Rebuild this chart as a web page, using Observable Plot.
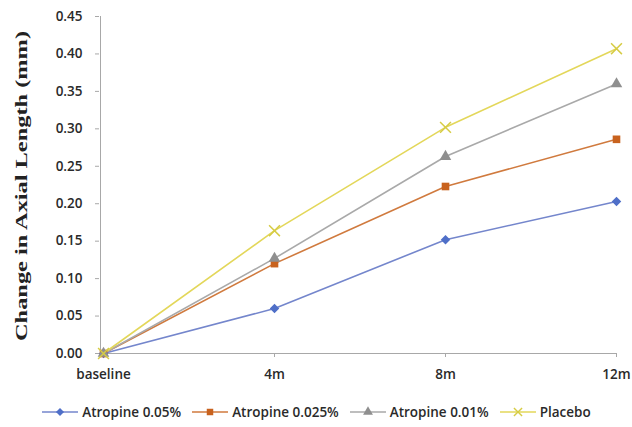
<!DOCTYPE html>
<html>
<head>
<meta charset="utf-8">
<script src="https://cdn.jsdelivr.net/npm/d3@7"></script>
<script src="https://cdn.jsdelivr.net/npm/@observablehq/plot@0.6"></script>
<style>
  html, body { margin: 0; padding: 0; background: #fff; }
  #wrap { width: 632px; height: 427px; position: relative; overflow: hidden; }
  #legend { position: absolute; left: 0; top: 401px; width: 632px; height: 22px;
    display: flex; justify-content: center; align-items: center; gap: 10px;
    font-family: "Open Sans", "Liberation Sans", sans-serif; font-weight: 600; font-size: 13.5px; color: #2a2a2a; }
  .item { display: flex; align-items: center; gap: 3px; }
</style>
</head>
<body>
<div id="wrap"><div id="chart"></div><div id="legend"></div></div>
<script>
const categories = ["baseline", "4m", "8m", "12m"];
const seriesNames = ["Atropine 0.05%", "Atropine 0.025%", "Atropine 0.01%", "Placebo"];
const atropine005 = [0, 0.060, 0.152, 0.203];
const atropine0025 = [0, 0.120, 0.223, 0.286];
const atropine001 = [0, 0.127, 0.263, 0.360];
const placebo = [0, 0.164, 0.302, 0.407];
const yTicks = [0, 0.05, 0.10, 0.15, 0.20, 0.25, 0.30, 0.35, 0.40, 0.45];

const lineColors = ["#7486cc", "#d07a3e", "#a9a9a9", "#e3d75a"];
const markColors = ["#4f6fc8", "#c8621e", "#8f8f8f", "#d6cc44"];
const symbols = ["diamond2", "square", "triangle", "times"];

const allSeries = [atropine005, atropine0025, atropine001, placebo];
const data = [];
allSeries.forEach((vals, si) => vals.forEach((v, i) => data.push({series: seriesNames[si], cat: categories[i], value: v})));

const font = "'Open Sans', 'Liberation Sans', sans-serif";

const chart = Plot.plot({
  width: 632,
  height: 400,
  marginLeft: 102,
  marginRight: 15,
  marginTop: 16,
  marginBottom: 47,
  style: {fontFamily: font, fontSize: "13.5px", fontWeight: 600, color: "#2a2a2a", background: "#fff"},
  x: {type: "point", domain: categories, padding: 0},
  y: {domain: [0, 0.45]},
  marks: [
    Plot.ruleX([categories[0]], {stroke: "#a8a8a8", strokeWidth: 1, dx: -3}),
    Plot.ruleY([0], {stroke: "#a8a8a8", strokeWidth: 1}),
    Plot.axisY({ticks: yTicks, tickFormat: d3.format(".2f"), tickSize: 4, tickPadding: 13, dx: -3, stroke: "#a8a8a8", label: null, fill: "#2a2a2a"}),
    Plot.axisX({tickSize: 4, tickPadding: 12, stroke: "#a8a8a8", label: null, fill: "#2a2a2a"}),
    Plot.line(data, {x: "cat", y: "value", z: "series", stroke: (d) => lineColors[seriesNames.indexOf(d.series)], strokeWidth: 1.6}),
    Plot.dot(data.filter(d => d.series !== "Placebo"), {
      x: "cat", y: "value",
      symbol: (d) => symbols[seriesNames.indexOf(d.series)],
      fill: (d) => markColors[seriesNames.indexOf(d.series)],
      r: 4.3
    }),
    Plot.dot(data.filter(d => d.series === "Placebo"), {
      x: "cat", y: "value", symbol: "times", stroke: markColors[3], strokeWidth: 1.5, r: 5
    })
  ]
});
document.getElementById("chart").appendChild(chart);

// Y-axis title
d3.select(chart).append("text")
  .attr("transform", "translate(27,186) rotate(-90)")
  .attr("text-anchor", "middle")
  .attr("font-family", "'Liberation Serif', 'DejaVu Serif', serif")
  .attr("font-weight", "bold")
  .attr("font-size", 17)
  .attr("fill", "#222")
  .attr("textLength", 310)
  .attr("lengthAdjust", "spacingAndGlyphs")
  .text("Change in Axial Length (mm)");

// Legend
const legend = d3.select("#legend");
const legSyms = [d3.symbolDiamond2, d3.symbolSquare, d3.symbolTriangle, d3.symbolTimes];
seriesNames.forEach((name, i) => {
  const item = legend.append("div").attr("class", "item");
  const svg = item.append("svg").attr("width", 38).attr("height", 12);
  svg.append("line").attr("x1", 1).attr("x2", 37).attr("y1", 6).attr("y2", 6)
    .attr("stroke", lineColors[i]).attr("stroke-width", 1.6);
  const sym = d3.symbol().type(legSyms[i]).size(i === 3 ? 45 : 42)();
  const p = svg.append("path").attr("d", sym).attr("transform", "translate(19,6)");
  if (i === 3) p.attr("fill", "none").attr("stroke", markColors[i]).attr("stroke-width", 1.4);
  else p.attr("fill", markColors[i]);
  item.append("span").text(name);
});
</script>
</body>
</html>
